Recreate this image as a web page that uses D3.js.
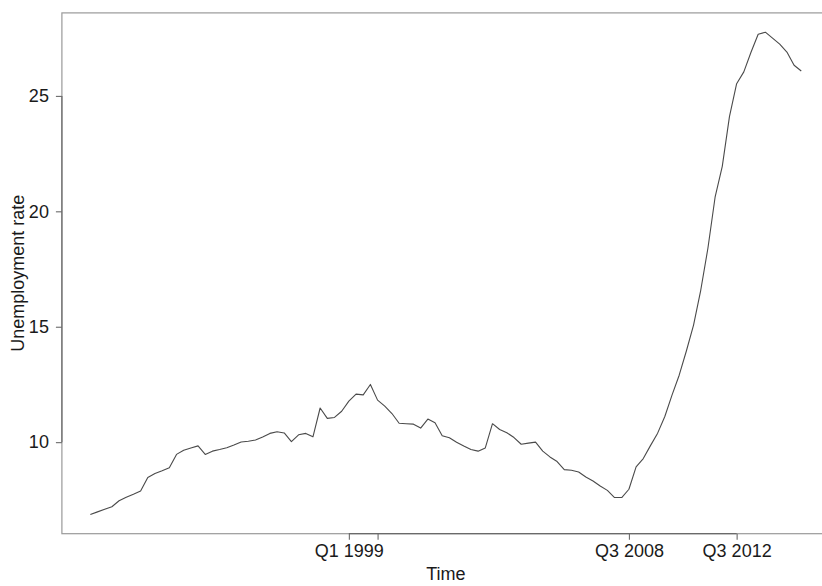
<!DOCTYPE html>
<html>
<head>
<meta charset="utf-8">
<script src="https://cdn.jsdelivr.net/npm/d3@7"></script>
<style>
  html, body { margin: 0; padding: 0; background: #fff; }
  svg { display: block; }
  text { font-family: "Liberation Sans", Arial, Helvetica, sans-serif; fill: #1a1a1a; }
</style>
</head>
<body>
<svg id="chart" width="822" height="586"></svg>
<script>
// Quarterly unemployment rate (%), one value per quarter, in order
const rate = [
  6.87, 6.98, 7.09, 7.20, 7.46, 7.61, 7.74, 7.88, 8.47, 8.64,
  8.76, 8.89, 9.47, 9.65, 9.75, 9.84, 9.47, 9.61, 9.68, 9.76,
  9.88, 10.01, 10.04, 10.09, 10.22, 10.38, 10.45, 10.40, 10.02, 10.32,
  10.38, 10.23, 11.48, 11.03, 11.07, 11.34, 11.78, 12.08, 12.05, 12.50,
  11.82, 11.56, 11.24, 10.82, 10.80, 10.78, 10.61, 11.00, 10.84, 10.28,
  10.19, 10.00, 9.83, 9.68, 9.61, 9.75, 10.80, 10.55, 10.41, 10.20,
  9.91, 9.96, 10.00, 9.61, 9.36, 9.16, 8.81, 8.78, 8.71, 8.49,
  8.32, 8.10, 7.91, 7.60, 7.60, 7.96, 8.93, 9.29, 9.85, 10.39,
  11.11, 12.04, 12.90, 13.95, 15.07, 16.58, 18.40, 20.61, 21.95, 24.10,
  25.53, 26.04, 26.89, 27.67, 27.76, 27.50, 27.24, 26.90, 26.33, 26.08
];

// Time-axis ticks (observation index) and their labels
const xTickIndex = [36, 40, 75, 90];
const xTickLabels = ["Q1 1999", "", "Q3 2008", "Q3 2012"];

// Rate-axis ticks
const yTicks = [10, 15, 20, 25];

const xTitle = "Time";
const yTitle = "Unemployment rate";

const svg = d3.select("#chart");
const plot = { left: 61.9, right: 829.7, top: 12.9, bottom: 533.7 };

// Data ranges padded by 4% on each side
function padded([lo, hi]) {
  const p = (hi - lo) * 0.04;
  return [lo - p, hi + p];
}

const x = d3.scaleLinear()
  .domain(padded([0, rate.length - 1]))
  .range([plot.left, plot.right]);

const y = d3.scaleLinear()
  .domain(padded(d3.extent(rate)))
  .range([plot.bottom, plot.top]);

// Plot frame
svg.append("rect")
  .attr("x", plot.left).attr("y", plot.top)
  .attr("width", plot.right - plot.left)
  .attr("height", plot.bottom - plot.top)
  .attr("fill", "none")
  .attr("stroke", "#9a9a9a")
  .attr("stroke-width", 1.2);

// Bottom axis
const xAxis = d3.axisBottom(x)
  .tickValues(xTickIndex)
  .tickFormat((d, i) => xTickLabels[i])
  .tickSize(6)
  .tickPadding(5);

const gx = svg.append("g")
  .attr("transform", `translate(0,${plot.bottom})`)
  .call(xAxis);
gx.select(".domain")
  .attr("d", `M${x(xTickIndex[0])},0H${x(xTickIndex[xTickIndex.length - 1])}`)
  .attr("stroke", "#6a6a6a").attr("stroke-width", 1.2);
gx.selectAll(".tick line").attr("stroke", "#6a6a6a").attr("stroke-width", 1.1);
gx.selectAll(".tick text")
  .attr("font-size", 18)
  .attr("font-family", "Liberation Sans, Arial, sans-serif")
  .attr("fill", "#1a1a1a");

// Left axis
const yAxis = d3.axisLeft(y)
  .tickValues(yTicks)
  .tickFormat(d3.format("d"))
  .tickSize(6)
  .tickPadding(7);

const gy = svg.append("g")
  .attr("transform", `translate(${plot.left},0)`)
  .call(yAxis);
gy.select(".domain")
  .attr("d", `M0,${y(yTicks[yTicks.length - 1])}V${y(yTicks[0])}`)
  .attr("stroke", "#6a6a6a").attr("stroke-width", 1.2);
gy.selectAll(".tick line").attr("stroke", "#6a6a6a").attr("stroke-width", 1.1);
gy.selectAll(".tick text")
  .attr("font-size", 18)
  .attr("font-family", "Liberation Sans, Arial, sans-serif")
  .attr("fill", "#1a1a1a");

// Series line
const line = d3.line()
  .x((d, i) => x(i))
  .y(d => y(d));

svg.append("path")
  .datum(rate)
  .attr("d", line)
  .attr("fill", "none")
  .attr("stroke", "#4a4a4a")
  .attr("stroke-width", 1.1)
  .attr("stroke-linejoin", "round");

// Axis titles
svg.append("text")
  .attr("x", (plot.left + plot.right) / 2)
  .attr("y", 580)
  .attr("text-anchor", "middle")
  .attr("font-size", 18)
  .text(xTitle);

svg.append("text")
  .attr("transform", `translate(24,${(plot.top + plot.bottom) / 2}) rotate(-90)`)
  .attr("text-anchor", "middle")
  .attr("font-size", 18)
  .text(yTitle);
</script>
</body>
</html>
